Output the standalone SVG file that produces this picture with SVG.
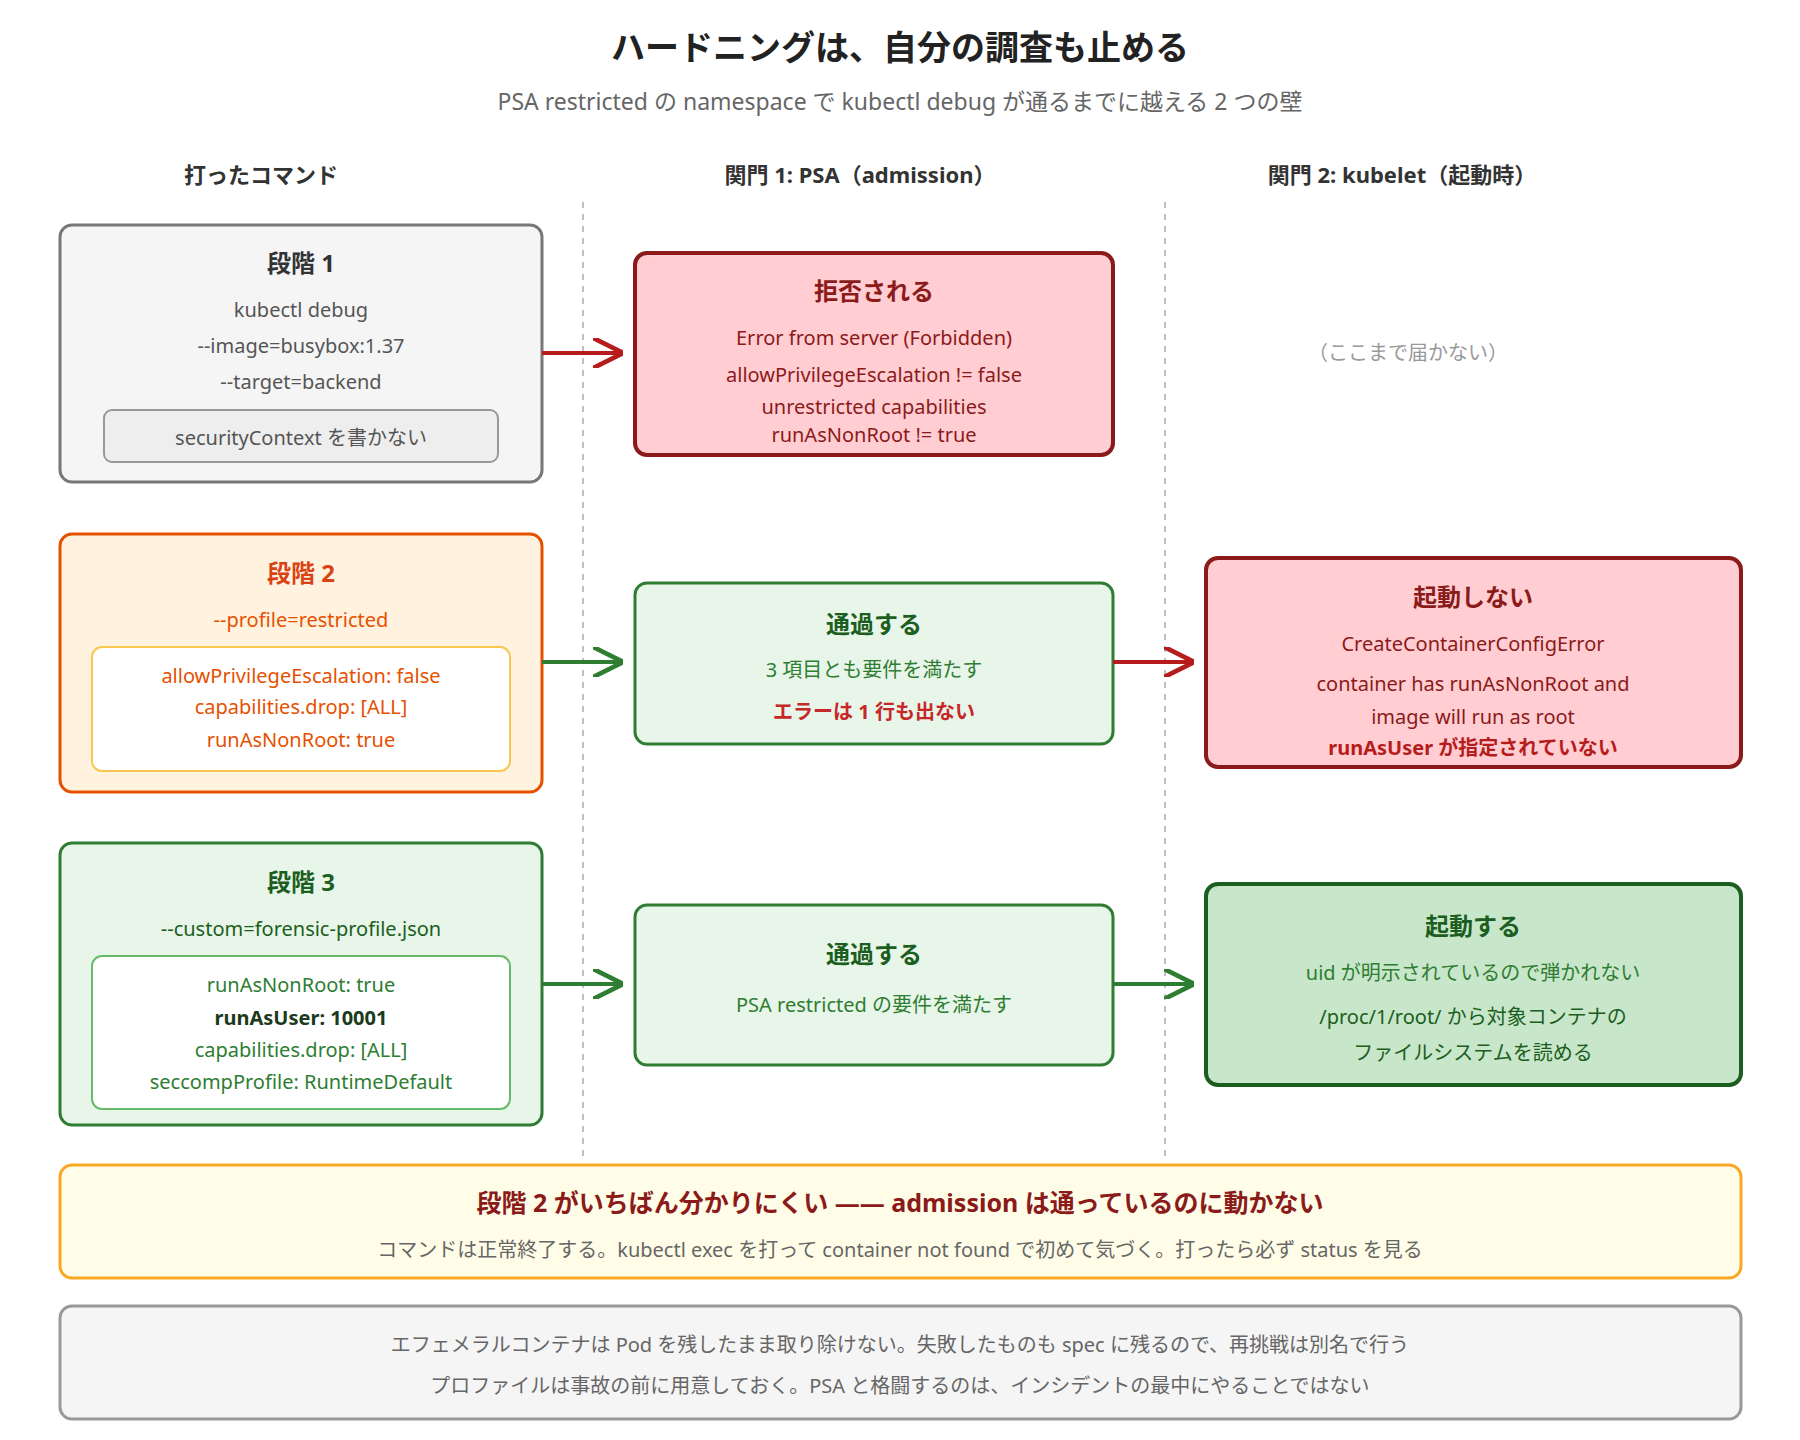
<svg xmlns="http://www.w3.org/2000/svg" width="1800" height="1440" viewBox="0 0 1800 1440">
<defs>
<style>
text{font-family:"Noto Sans","Noto Sans CJK JP",sans-serif;text-anchor:middle}
.t{font-size:20px}
.h{font-size:24px;font-weight:bold}
.col{font-size:22px;font-weight:bold;fill:#333}
.gray{fill:#555}
.red{fill:#8b1a1a}
.org{fill:#e65100}
.grn{fill:#2e7d32}
.dgrn{fill:#1b5e20}
</style>
<marker id="arr" viewBox="0 0 14 14" refX="13" refY="7" markerWidth="30" markerHeight="30" markerUnits="userSpaceOnUse"><path d="M0,0 L14,7 L0,14" fill="none" stroke="#b71c1c" stroke-width="2.2"/></marker>
<marker id="arg" viewBox="0 0 14 14" refX="13" refY="7" markerWidth="30" markerHeight="30" markerUnits="userSpaceOnUse"><path d="M0,0 L14,7 L0,14" fill="none" stroke="#2e7d32" stroke-width="2.2"/></marker>
</defs>
<rect width="1800" height="1440" fill="#fff"/>
<text x="900" y="60" style="font-size:34px;font-weight:bold" fill="#222">ハードニングは、自分の調査も止める</text>
<text x="900" y="110" style="font-size:23px" fill="#666">PSA restricted の namespace で kubectl debug が通るまでに越える 2 つの壁</text>
<text class="col" x="261" y="183">打ったコマンド</text>
<text class="col" x="860" y="183">関門 1: PSA（admission）</text>
<text class="col" x="1402" y="183">関門 2: kubelet（起動時）</text>
<g id="dividers" stroke="#aaa" stroke-width="1.5" stroke-dasharray="6,6">
<line x1="583" y1="202" x2="583" y2="1157"/><line x1="1165" y1="202" x2="1165" y2="1157"/></g>

<g id="step1">
<rect x="60" y="225" width="482" height="257" rx="12" fill="#f5f5f5" stroke="#777" stroke-width="3"/>
<text class="h" x="301" y="272" fill="#333">段階 1</text>
<text class="t gray" x="301" y="317">kubectl debug</text>
<text class="t gray" x="301" y="353">--image=busybox:1.37</text>
<text class="t gray" x="301" y="389">--target=backend</text>
<rect x="104" y="410" width="394" height="52" rx="8" fill="#eee" stroke="#999" stroke-width="2"/>
<text class="t gray" x="301" y="445">securityContext を書かない</text>
</g>
<g id="step2">
<rect x="60" y="534" width="482" height="258" rx="12" fill="#fff3e0" stroke="#e65100" stroke-width="3"/>
<text class="h" x="301" y="582" fill="#d84315">段階 2</text>
<text class="t org" x="301" y="627">--profile=restricted</text>
<rect x="92" y="647" width="418" height="124" rx="10" fill="#fff" stroke="#f9c74f" stroke-width="2"/>
<text class="t org" x="301" y="683">allowPrivilegeEscalation: false</text>
<text class="t org" x="301" y="714">capabilities.drop: [ALL]</text>
<text class="t org" x="301" y="747">runAsNonRoot: true</text>
</g>
<g id="step3">
<rect x="60" y="843" width="482" height="282" rx="12" fill="#e8f5e9" stroke="#2e7d32" stroke-width="3"/>
<text class="h dgrn" x="301" y="891">段階 3</text>
<text class="t dgrn" x="301" y="936">--custom=forensic-profile.json</text>
<rect x="92" y="956" width="418" height="153" rx="10" fill="#fff" stroke="#66bb6a" stroke-width="2"/>
<text class="t grn" x="301" y="992">runAsNonRoot: true</text>
<text class="t" x="301" y="1025" font-weight="bold" fill="#1b3a1b">runAsUser: 10001</text>
<text class="t grn" x="301" y="1057">capabilities.drop: [ALL]</text>
<text class="t grn" x="301" y="1089">seccompProfile: RuntimeDefault</text>
</g>
<g id="reject">
<rect x="635" y="253" width="478" height="202" rx="12" fill="#ffcdd2" stroke="#8b1a1a" stroke-width="4"/>
<text class="h red" x="874" y="300">拒否される</text>
<text class="t red" x="874" y="345">Error from server (Forbidden)</text>
<text class="t red" x="874" y="382">allowPrivilegeEscalation != false</text>
<text class="t red" x="874" y="414">unrestricted capabilities</text>
<text class="t red" x="874" y="442">runAsNonRoot != true</text>
</g>
<g id="pass1">
<rect x="635" y="583" width="478" height="161" rx="12" fill="#e8f5e9" stroke="#2e7d32" stroke-width="3"/>
<text class="h dgrn" x="874" y="633">通過する</text>
<text class="t grn" x="874" y="677">3 項目とも要件を満たす</text>
<text class="t" x="874" y="719" font-weight="bold" fill="#c62828">エラーは 1 行も出ない</text>
</g>
<g id="pass2">
<rect x="635" y="905" width="478" height="160" rx="12" fill="#e8f5e9" stroke="#2e7d32" stroke-width="3"/>
<text class="h dgrn" x="874" y="963">通過する</text>
<text class="t grn" x="874" y="1012">PSA restricted の要件を満たす</text>
</g>
<g id="unreached"><text class="t" x="1408" y="360" fill="#999">（ここまで届かない）</text></g>
<g id="nostart">
<rect x="1206" y="558" width="535" height="209" rx="12" fill="#ffcdd2" stroke="#8b1a1a" stroke-width="4"/>
<text class="h red" x="1473" y="606">起動しない</text>
<text class="t red" x="1473" y="651">CreateContainerConfigError</text>
<text class="t red" x="1473" y="691">container has runAsNonRoot and</text>
<text class="t red" x="1473" y="724">image will run as root</text>
<text class="t" x="1473" y="755" font-weight="bold" fill="#b71c1c">runAsUser が指定されていない</text>
</g>
<g id="start">
<rect x="1206" y="884" width="535" height="201" rx="12" fill="#c8e6c9" stroke="#1b5e20" stroke-width="4"/>
<text class="h dgrn" x="1473" y="935">起動する</text>
<text class="t grn" x="1473" y="980">uid が明示されているので弾かれない</text>
<text class="t dgrn" x="1473" y="1024">/proc/1/root/ から対象コンテナの</text>
<text class="t dgrn" x="1473" y="1060">ファイルシステムを読める</text>
</g>
<g id="connectors" stroke-width="4" fill="none">
<line x1="542" y1="353" x2="621" y2="353" stroke="#b71c1c" marker-end="url(#arr)"/>
<line x1="542" y1="662" x2="621" y2="662" stroke="#2e7d32" marker-end="url(#arg)"/>
<line x1="1113" y1="662" x2="1192" y2="662" stroke="#b71c1c" marker-end="url(#arr)"/>
<line x1="542" y1="984" x2="621" y2="984" stroke="#2e7d32" marker-end="url(#arg)"/>
<line x1="1113" y1="984" x2="1192" y2="984" stroke="#2e7d32" marker-end="url(#arg)"/>
</g>
<g id="warning">
<rect x="60" y="1165" width="1681" height="113" rx="12" fill="#fffde7" stroke="#f9a825" stroke-width="3"/>
<text x="900" y="1212" style="font-size:25px;font-weight:bold" fill="#8b1a1a">段階 2 がいちばん分かりにくい —— admission は通っているのに動かない</text>
<text class="t" x="900" y="1257" fill="#666">コマンドは正常終了する。kubectl exec を打って container not found で初めて気づく。打ったら必ず status を見る</text>
</g>
<g id="note">
<rect x="60" y="1306" width="1681" height="113" rx="12" fill="#f5f5f5" stroke="#999" stroke-width="3"/>
<text class="t" x="900" y="1352" fill="#666">エフェメラルコンテナは Pod を残したまま取り除けない。失敗したものも spec に残るので、再挑戦は別名で行う</text>
<text class="t" x="900" y="1393" fill="#666">プロファイルは事故の前に用意しておく。PSA と格闘するのは、インシデントの最中にやることではない</text>
</g>
</svg>
